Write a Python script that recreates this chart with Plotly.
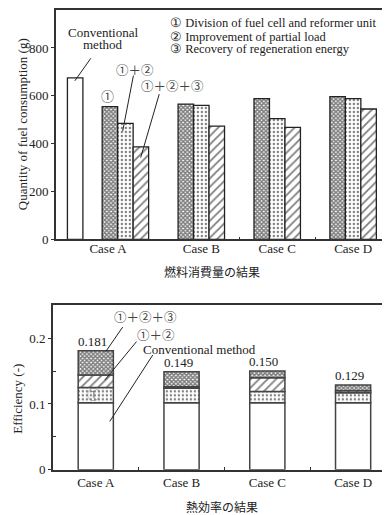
import plotly.graph_objects as go
import numpy as np

# ---------------- data ----------------
cases = ["Case A", "Case B", "Case C", "Case D"]
fuel_conventional = [675]                 # Case A conventional method
fuel_m1 = [555, 565, 588, 597]            # (1)
fuel_m12 = [485, 560, 505, 588]           # (1)+(2)
fuel_m123 = [387, 473, 468, 545]          # (1)+(2)+(3)

eff_conventional = [0.102, 0.102, 0.102, 0.102]
eff_add1 = [0.023, 0.022, 0.017, 0.015]
eff_add2 = [0.019, 0.002, 0.021, 0.003]
eff_add3 = [0.037, 0.023, 0.010, 0.009]
eff_total_labels = ["0.181", "0.149", "0.150", "0.129"]

fuel_yticks = [0, 200, 400, 600, 800]
eff_yticks = [0, 0.1, 0.2]
eff_yticktext = ["0", "0.1", "0.2"]

legend_lines = ["① Division of fuel cell and reformer unit",
                "② Improvement of partial load",
                "③ Recovery of regeneration energy"]

# ---------------- styling ----------------
W, H = 390, 515
SERIF = "Liberation Serif"
CJK = "Noto Sans CJK JP"
INK = "#222222"
FRAME = "#333333"

def px(x, y):
    return x / W, 1 - y / H

idx = np.arange(len(cases))
bw = 0.204

dots = dict(shape=".", fgcolor="black", bgcolor="white", size=4, solidity=0.28)
hatch = dict(shape="/", fgcolor="black", bgcolor="white", size=6, solidity=0.3)
cross = dict(shape="x", fgcolor="black", bgcolor="white", size=3, solidity=0.75)
line_top = dict(color=INK, width=1.3)
line_bot = dict(color="#444444", width=1.5)

fig = go.Figure()

# ---- top chart: fuel consumption ----
fig.add_trace(go.Bar(x=idx[:1], y=fuel_conventional, width=bw, offset=-0.764,
                     marker=dict(color="white", line=line_top),
                     xaxis="x", yaxis="y", showlegend=False))
for vals, pat, off in [(fuel_m1, cross, -0.306), (fuel_m12, dots, -0.102),
                       (fuel_m123, hatch, 0.102)]:
    fig.add_trace(go.Bar(x=idx, y=vals, width=bw, offset=off,
                         marker=dict(color="white", line=line_top, pattern=pat),
                         xaxis="x", yaxis="y", showlegend=False))

# ---- bottom chart: efficiency (stacked via base) ----
stack = [(eff_conventional, None), (eff_add1, dots), (eff_add2, hatch), (eff_add3, cross)]
base = np.zeros(len(cases))
for vals, pat in stack:
    m = dict(color="white", line=line_bot)
    if pat is not None:
        m["pattern"] = pat
    fig.add_trace(go.Bar(x=idx, y=vals, base=base.copy(), width=0.41,
                         marker=m, xaxis="x2", yaxis="y2", showlegend=False))
    base = base + np.array(vals)
totals = base

annotations = []

def txt(text, x, y, size=13, family=SERIF, color=INK, angle=0, xanchor="center"):
    xx, yy = px(x, y)
    annotations.append(dict(text=text, x=xx, y=yy, xref="paper", yref="paper",
                            showarrow=False, xanchor=xanchor, yanchor="middle",
                            textangle=angle, borderpad=0,
                            font=dict(size=size, family=family, color=color)))

def leader(head, tail):
    hx, hy = px(*head)
    annotations.append(dict(text="", x=hx, y=hy, xref="paper", yref="paper",
                            showarrow=True, arrowhead=0, arrowwidth=1,
                            arrowcolor=INK, ax=tail[0] - head[0], ay=tail[1] - head[1],
                            standoff=0))

# top chart texts
txt("Conventional", 95, 25)
txt("method", 95, 37)
leader((67, 74), (84, 50))
txt("①", 100, 89, size=13, family=CJK, color="#444")
txt("①＋②", 127, 62, size=12.5, family=CJK, color="#444")
leader((115, 125), (126, 68))
txt("①＋②＋③", 165, 79, size=12.5, family=CJK, color="#444")
leader((133, 152), (152, 87))
for i, t in enumerate(legend_lines):
    txt(t, 161, [15, 29, 42][i], size=12.5, xanchor="left")
txt("Quantity of fuel consumption (g)", 14, 118, angle=-90)
txt("燃料消費量の結果", 205, 268, size=12, family=CJK)

# bottom chart texts
txt("①＋②＋③", 138, 313, size=12.5, family=CJK, color="#444")
leader((98, 349), (116, 323))
txt("①＋②", 148, 332, size=12.5, family=CJK, color="#444")
leader((97, 378), (130, 338))
txt("Conventional method", 192, 347)
leader((102, 420), (146, 352))
txt("①", 86, 392, size=13, family=CJK, color="#777")
txt("Efficiency (-)", 10, 397, angle=-90)
txt("熱効率の結果", 215, 506, size=12, family=CJK)

for i, lab in enumerate(eff_total_labels):
    annotations.append(dict(text=lab, x=idx[i] - 0.04, y=totals[i], xref="x2", yref="y2",
                            showarrow=False, yanchor="bottom", yshift=0,
                            font=dict(size=13, family=SERIF, color=INK)))

axis_common = dict(showline=True, mirror=True, linecolor=FRAME, linewidth=1.5,
                   showgrid=False, zeroline=False,
                   tickfont=dict(size=13, family=SERIF, color=INK))

fig.update_layout(
    width=W, height=H,
    margin=dict(l=0, r=0, t=0, b=0),
    paper_bgcolor="white", plot_bgcolor="white",
    barmode="overlay",
    showlegend=False,
    font=dict(family=SERIF),
    xaxis=dict(domain=[48 / W, 389 / W], range=[-0.916, 3.565], anchor="y",
               tickmode="array", tickvals=[-0.229, 1, 2, 3], ticktext=cases,
               ticks="", ticklabelstandoff=-4,
               minor=dict(tickmode="array", tickvals=[1.5, 2.5],
                          ticks="inside", ticklen=3, tickcolor=FRAME),
               **axis_common),
    yaxis=dict(domain=[1 - 235 / H, 1 - 2 / H], range=[0, 959], anchor="x",
               tickmode="array", tickvals=fuel_yticks, ticks="outside", ticklen=3,
               tickcolor=FRAME, **axis_common),
    xaxis2=dict(domain=[45 / W, 389 / W], range=[-0.5, 3.5], anchor="y2",
                tickmode="array", tickvals=idx, ticktext=cases, ticks="",
                minor=dict(tickmode="array", tickvals=[0.5, 1.5, 2.5],
                           ticks="inside", ticklen=3, tickcolor=FRAME),
                **axis_common),
    yaxis2=dict(domain=[1 - 469 / H, 1 - 302 / H], range=[0, 0.25], anchor="x2",
                tickmode="array", tickvals=eff_yticks, ticktext=eff_yticktext,
                ticks="outside", ticklen=3, tickcolor=FRAME,
                minor=dict(tickmode="array", tickvals=[0.05, 0.15],
                           ticks="inside", ticklen=3, tickcolor=FRAME),
                **axis_common),
    annotations=annotations,
)

fig.write_html("out.html")
